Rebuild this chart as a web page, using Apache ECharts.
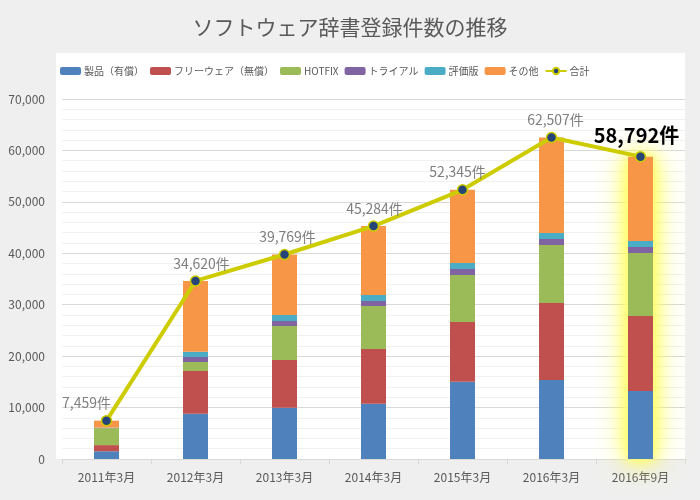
<!DOCTYPE html>
<html>
<head>
<meta charset="utf-8">
<script src="https://cdn.jsdelivr.net/npm/echarts@6/dist/echarts.min.js"></script>
<style>
html,body{margin:0;padding:0;background:#efefef;}
#main{width:700px;height:500px;}
</style>
</head>
<body>
<div id="main"></div>
<script>
// ---- data ----
const categories = ['2011年3月','2012年3月','2013年3月','2014年3月','2015年3月','2016年3月','2016年9月'];
const seriesNames = ['製品（有償）','フリーウェア（無償）','HOTFIX','トライアル','評価版','その他'];
const totalName = '合計';
const paid      = [1500,  8808,  9975, 10753, 15030, 15361, 13222];
const freeware  = [1200,  8303,  9275, 10636, 11608, 14972, 14583];
const hotfix    = [3300,  1750,  6611,  8361,  9139, 11278, 12250];
const trial     = [  50,   972,   972,   972,  1167,  1167,  1167];
const evaluation= [  50,  1030,  1167,  1167,  1167,  1167,  1167];
const others    = [1359, 13757, 11769, 13395, 14234, 18562, 16403];
const totals    = [7459, 34620, 39769, 45284, 52345, 62507, 58792];
const yTicks    = [0, 10000, 20000, 30000, 40000, 50000, 60000, 70000];

// ---- chart ----
const FONT = 'Noto Sans CJK JP';
const colors = ['#4f81bd','#c0504d','#9bbb59','#8064a2','#4bacc6','#f79646'];
const stackData = [paid, freeware, hotfix, trial, evaluation, others];
const fmt = v => String(v).replace(/\B(?=(\d{3})+(?!\d))/g, ',') + '件';
const last = totals.length - 1;
const labelDx = [-20, 6, 3, 1, -5, 4, -4];

const chart = echarts.init(document.getElementById('main'), null, {renderer:'canvas'});

const series = [];
// glow behind the highlighted (last) column (layers)
[[32, 'rgba(255,255,60,1)'], [18, 'rgba(255,255,90,1)'], [10, 'rgba(255,255,120,1)']].forEach((g, j) => {
  series.push({
    name: 'glow' + j,
    type: 'bar',
    barWidth: 25,
    barGap: '-100%',
    z: 1,
    silent: true,
    data: totals.map((v, i) => i === last ? v : '-'),
    itemStyle: { color: '#ffff80', shadowBlur: g[0], shadowColor: g[1] }
  });
});
stackData.forEach((arr, k) => {
  series.push({
    name: seriesNames[k],
    type: 'bar',
    stack: 'total',
    barWidth: 25,
    barGap: '-100%',
    z: 2,
    itemStyle: { color: colors[k] },
    data: arr
  });
});
series.push({
  name: totalName,
  type: 'line',
  z: 5,
  symbol: 'circle',
  symbolSize: 10,
  lineStyle: { color: '#cccc00', width: 4 },
  itemStyle: { color: '#264478', borderColor: '#cccc00', borderWidth: 1.5 },
  label: {
    show: true,
    position: 'top',
    color: '#7f7f7f',
    fontSize: 14,
    fontFamily: FONT,
    formatter: p => fmt(p.value)
  },
  data: totals.map((v, i) => {
    const item = { value: v, label: { offset: [labelDx[i], 0] } };
    if (i === last) {
      item.label = { offset: [labelDx[i], 0], color: '#000000', fontSize: 20, fontWeight: 'bold' };
    }
    return item;
  })
});

chart.setOption({
  animation: false,
  backgroundColor: '#efefef',
  textStyle: { fontFamily: FONT },
  title: {
    text: 'ソフトウェア辞書登録件数の推移',
    left: 'center',
    top: 12,
    textStyle: { fontSize: 21, fontWeight: 'normal', color: '#595959', fontFamily: FONT }
  },
  graphic: [{
    type: 'rect',
    left: 56, top: 53,
    shape: { width: 629, height: 406 },
    style: { fill: '#ffffff' },
    z: -10, silent: true
  }],
  legend: {
    data: seriesNames.concat([totalName]),
    left: 60,
    top: 66,
    padding: 0,
    itemWidth: 21,
    itemHeight: 8,
    itemGap: 6,
    textStyle: { fontSize: 10, color: '#595959', fontFamily: FONT, padding: [0,0,0,-2] }
  },
  grid: { left: 62, right: 15, top: 99, bottom: 41, containLabel: false },
  xAxis: {
    type: 'category',
    data: categories,
    axisLine: { show: true, lineStyle: { color: '#d9d9d9', width: 1 } },
    axisTick: { show: true, length: 5, lineStyle: { color: '#d9d9d9' } },
    axisLabel: { color: '#595959', fontSize: 12, margin: 12, fontFamily: FONT }
  },
  yAxis: {
    type: 'value',
    min: yTicks[0],
    max: yTicks[yTicks.length - 1],
    interval: yTicks[1] - yTicks[0],
    axisLine: { show: false },
    axisTick: { show: false },
    axisLabel: {
      color: '#595959', fontSize: 12, margin: 17, fontFamily: FONT,
      formatter: v => String(v).replace(/\B(?=(\d{3})+(?!\d))/g, ',')
    },
    splitLine: { show: true, lineStyle: { color: '#d9d9d9', width: 1 } },
    minorTick: { show: false, splitNumber: 5 },
    minorSplitLine: { show: true, lineStyle: { color: '#f0f0f0', width: 1 } }
  },
  series: series
});
</script>
</body>
</html>
